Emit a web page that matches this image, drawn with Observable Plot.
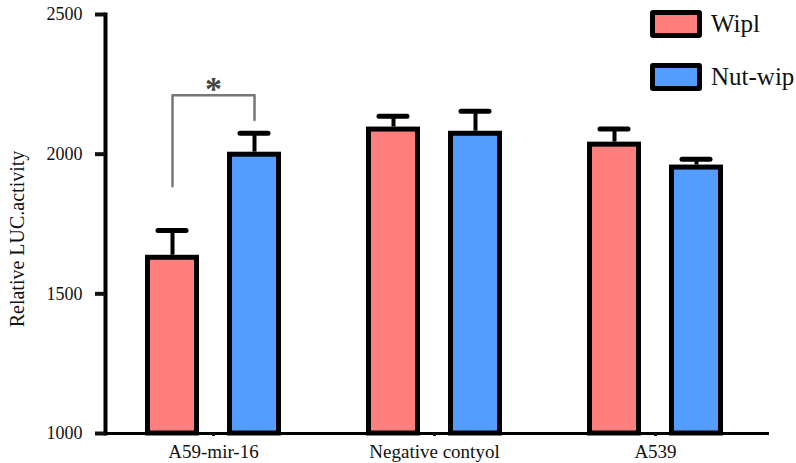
<!DOCTYPE html>
<html>
<head>
<meta charset="utf-8">
<script src="https://cdn.jsdelivr.net/npm/d3@7"></script>
<script src="https://cdn.jsdelivr.net/npm/@observablehq/plot@0.6"></script>
<style>
  body { margin: 0; background: #fff; }
  #wrap { position: relative; width: 796px; height: 463px; font-family: "Liberation Serif", "DejaVu Serif", serif; }
  #legend { position: absolute; left: 650px; top: 10px; }
  .item { display: flex; align-items: center; height: 28px; margin-bottom: 25px; }
  .sw { width: 42px; height: 18px; border: 5px solid #000; border-radius: 3px; margin-right: 9px; }
  .lab { font-size: 25px; color: #111; }
</style>
</head>
<body>
<div id="wrap"></div>
<script>
const groups = ["A59-mir-16", "Negative contyol", "A539"];
const seriesNames = ["Wipl", "Nut-wip"];
const wiplValues = [1638, 2097, 2043];
const wiplErrors = [89, 39, 47];
const nutwipValues = [2007, 2082, 1961];
const nutwipErrors = [68, 72, 21];
const yTicks = [1000, 1500, 2000, 2500];
const yLabel = "Relative LUC.activity";
const colors = ["#ff7f7f", "#529dff"];
const bracketSeries = ["Wipl", "Wipl", "Nut-wip", "Nut-wip"];
const bracketY = [1885, 2211, 2211, 2122];
const starY = 2262;

const data = [];
groups.forEach((g, i) => {
  data.push({group: g, series: "Wipl", value: wiplValues[i], err: wiplErrors[i]});
  data.push({group: g, series: "Nut-wip", value: nutwipValues[i], err: nutwipErrors[i]});
});
const bracket = bracketSeries.map((s, i) => ({group: groups[0], series: s, y: bracketY[i]}));

const chart = Plot.plot({
  width: 796,
  height: 463,
  marginLeft: 105,
  marginRight: 33,
  marginTop: 14,
  marginBottom: 30,
  style: {fontFamily: "Liberation Serif, serif", color: "#111", background: "#fff"},
  fx: {domain: groups, paddingInner: 0.023, paddingOuter: 0, label: null},
  x: {domain: seriesNames, paddingInner: 0.337, paddingOuter: 0.47, axis: null},
  y: {domain: [1000, 2500]},
  color: {domain: seriesNames, range: colors},
  marks: [
    Plot.barY(data, {fx: "group", x: "series", y1: 1000, y2: "value", fill: "series",
      stroke: "#000", strokeWidth: 5, insetLeft: 2.5, insetRight: 2.5, insetTop: 2.5}),
    Plot.ruleX(data, {fx: "group", x: "series", y1: "value", y2: d => d.value + d.err, stroke: "#000", strokeWidth: 4}),
    Plot.tickY(data, {fx: "group", x: "series", y: d => d.value + d.err, stroke: "#000", strokeWidth: 5,
      strokeLinecap: "round", insetLeft: 13, insetRight: 13}),
    Plot.line(bracket, {fx: "group", x: "series", y: "y", stroke: "#777", strokeWidth: 2.5}),
    Plot.text([starY], {fx: () => groups[0], y: d => d, text: () => "*", fontSize: 34, fontWeight: "bold", dy: 8, fill: "#444"}),
    Plot.ruleY([1000], {stroke: "#000", strokeWidth: 3, insetRight: -6}),
    Plot.frame({anchor: "left", fx: [groups[0]], stroke: "#000", strokeWidth: 4}),
    Plot.axisY({ticks: yTicks, tickFormat: d => String(d), tickSize: 10, tickPadding: 13, strokeWidth: 4,
      fontSize: 18, label: null}),
    Plot.text([yLabel], {fx: [groups[0]], frameAnchor: "left", textAnchor: "middle", rotate: -90, dx: -88, dy: 15, fontSize: 20, fill: "#111"}),
    Plot.axisFx({anchor: "bottom", tickSize: 3, tickPadding: 8, strokeWidth: 3, fontSize: 19, label: null})
  ]
});
document.getElementById("wrap").appendChild(chart);

const legend = document.createElement("div");
legend.id = "legend";
seriesNames.forEach((s, i) => {
  const item = document.createElement("div");
  item.className = "item";
  const sw = document.createElement("div");
  sw.className = "sw";
  sw.style.background = colors[i];
  const lab = document.createElement("span");
  lab.className = "lab";
  lab.textContent = s;
  item.appendChild(sw);
  item.appendChild(lab);
  legend.appendChild(item);
});
document.getElementById("wrap").appendChild(legend);
</script>
</body>
</html>
